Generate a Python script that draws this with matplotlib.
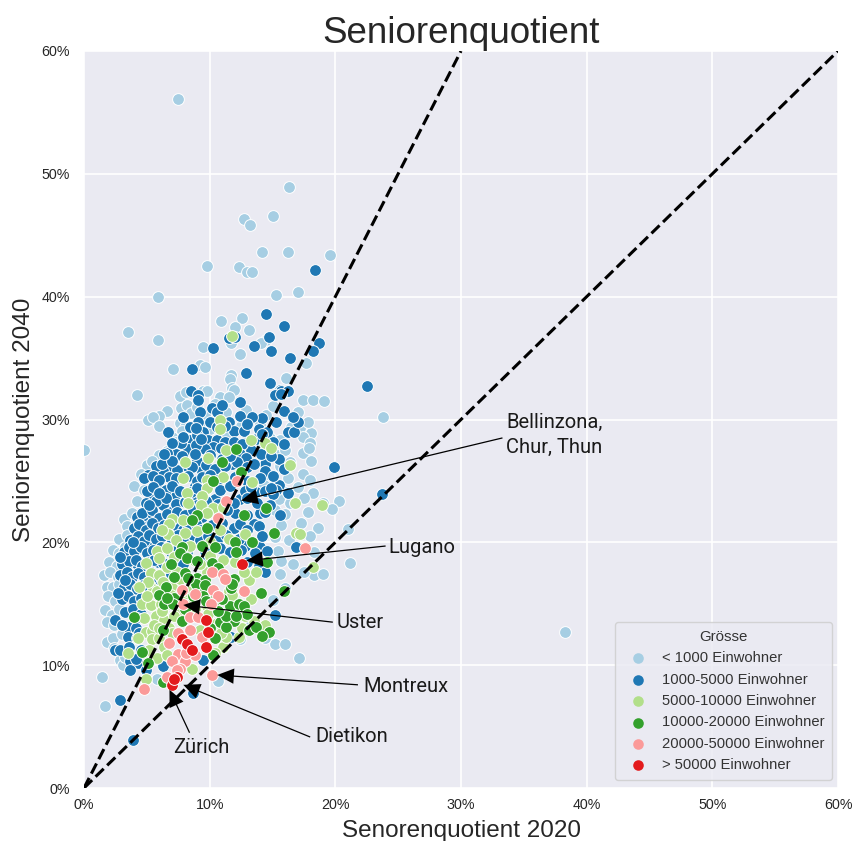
import matplotlib
matplotlib.use("Agg")
import matplotlib.pyplot as plt

plt.rcParams["font.family"] = ["Liberation Sans", "DejaVu Sans"]

# (Seniorenquotient 2020, Seniorenquotient 2040) in %
klein = [(7.5,56.1),(0.0,27.5),(16.3,48.9),(15.0,46.6),(12.7,46.3),(13.2,45.8),(14.2,43.6),(16.2,43.6),(19.6,43.4),
    (9.8,42.5),(12.3,42.4),(13.0,42.0),(13.4,42.0),(5.9,40.0),(15.3,40.1),(17.0,40.4),(10.9,38.0),(12.6,38.3),
    (12.0,37.5),(13.1,37.3),(3.5,37.1),(5.9,36.5),(11.7,36.2),(14.5,36.5),(14.1,36.2),(9.5,35.9),(12.4,35.3),
    (17.7,34.6),(7.1,34.1),(9.2,34.4),(9.6,34.3),(11.7,33.6),(11.6,33.3),(16.1,33.4),(11.8,32.6),(11.9,32.4),
    (4.2,32.0),(7.6,31.9),(8.1,32.2),(9.5,32.3),(9.8,32.3),(10.8,31.8),(11.5,31.8),(17.4,31.6),(18.2,31.6),(19.1,31.5),
    (23.8,30.2),(38.3,12.7),(6.6,30.7),(7.7,30.9),(8.2,31.2),(8.5,30.5),(9.0,31.0),(9.6,30.4),(10.4,31.3),(11.3,30.6),
    (12.9,30.8),(14.5,30.4),(15.0,31.1),(17.0,30.6),(5.1,30.0),(6.0,30.3),(5.5,30.2),(7.6,29.7),(8.0,29.4),(7.8,29.1),
    (9.2,29.6),(6.0,29.5),(10.0,29.2),(12.5,29.5),(14.0,29.6),(16.5,29.4),(17.2,29.3),(18.1,28.9),(17.8,29.8),
    (7.0,28.6),(7.3,28.2),(11.4,28.7),(13.0,28.4),(14.8,28.5),(15.6,28.3),(17.4,28.6),(18.0,28.1),
    (6.0,27.1),(6.6,27.4),(13.8,27.6),(15.2,27.2),(16.0,27.5),(17.4,27.3),(17.9,27.7),(5.0,26.3),(5.4,26.6),(6.0,26.2),
    (14.5,26.7),(15.6,26.2),(16.4,26.5),(18.1,26.6),(4.5,25.6),(5.0,25.3),(5.7,25.7),(14.8,25.5),(16.2,25.2),(17.4,25.6),
    (18.0,25.1),(4.0,24.6),(4.8,24.3),(14.3,24.7),(15.8,24.2),(17.0,24.5),(18.2,24.0),(4.2,23.4),(15.5,23.5),(16.4,23.2),
    (17.5,23.6),(19.0,23.2),(20.3,23.4),(3.2,21.9),(3.8,22.4),(15.2,22.6),(16.0,22.3),(17.8,22.5),(19.7,22.7),
    (3.4,21.3),(15.7,21.4),(17.3,21.6),(18.6,21.2),(21.0,21.1),(2.8,20.3),(3.4,20.6),(15.2,20.4),(16.3,20.2),(18.0,20.5),
    (2.3,19.4),(2.8,19.1),(3.3,19.6),(15.4,19.3),(17.0,19.6),(18.3,19.2),(2.0,18.4),(2.6,18.1),(15.7,18.5),(16.6,18.2),
    (18.3,17.3),(21.2,18.3),(1.6,17.3),(2.1,17.6),(2.7,17.2),(15.6,17.4),(17.5,17.6),(19.0,17.4),(1.8,16.4),(2.3,16.4),
    (2.8,16.6),(16.0,16.3),(1.9,15.6),(2.5,15.2),(3.1,15.4),(15.0,15.3),(1.7,14.5),(2.2,14.1),(2.8,14.6),(1.8,13.5),
    (2.4,13.3),(13.2,13.7),(1.8,11.9),(2.3,12.2),(3.0,12.5),(2.4,11.4),(3.1,11.0),(2.9,10.4),(3.1,10.0),(3.3,10.7),
    (15.2,11.7),(16.0,11.7),(17.1,10.6),(14.4,12.2),(12.4,12.1),(1.4,9.0),(1.7,6.7),(10.7,8.7),(5.8,8.9)]

mittel = [(18.4,42.2),(14.5,38.6),(15.9,37.6),(14.7,36.7),(11.5,36.6),(12.0,36.7),(10.3,35.8),(13.5,36.0),(14.9,35.6),
    (18.7,36.2),(18.2,35.6),(16.4,35.0),(8.6,34.1),(12.9,33.8),(14.8,33.0),(15.6,32.4),(15.7,32.3),(16.2,32.3),(15.2,32.0),
    (22.5,32.7),(8.5,32.3),(9.1,32.0),(9.1,31.6),(23.7,23.9),(19.9,26.1),(10.2,30.9),(9.2,30.6),(7.9,30.2),(12.4,30.3),
    (10.6,30.6),(15.7,32.1),(15.9,30.7),(9.1,29.8),(8.4,29.4),(10.0,29.8),(6.7,29.0),(9.5,29.0),(11.5,29.8),(11.9,29.1),
    (12.7,29.1),(15.3,29.8),(16.2,29.0),(16.7,29.0),(14.2,30.1),(17.0,29.8),(8.4,28.3),(9.9,28.3),(10.6,28.3),(11.2,28.2),
    (11.9,28.2),(9.0,28.7),(10.3,27.8),(8.3,27.6),(7.3,27.2),(9.6,27.6),(13.3,27.5),(9.0,26.6),(11.8,26.4),(15.5,26.8),
    (14.4,26.4),(8.2,26.2),(9.4,25.8),(6.8,26.0),(6.3,25.8),(7.4,25.9),(14.4,25.8),(6.8,25.3),(5.1,25.5),(5.9,24.8),
    (8.8,24.6),(7.2,23.7),(5.3,23.5),(8.8,23.6),(10.4,23.5),(12.4,23.5),(13.7,24.1),(15.5,24.7),(15.3,24.3),(14.0,22.4),
    (15.6,22.2),(12.0,22.4),(5.6,22.2),(5.0,22.2),(6.3,23.0),(6.9,22.5),(4.7,21.7),(5.1,21.3),(13.5,21.5),(4.1,20.7),
    (4.6,20.4),(12.8,19.7),(14.0,19.6),(16.9,19.6),(5.2,19.6),(3.7,19.2),(3.5,18.2),(4.2,18.2),(5.9,18.4),
    (8.9,29.3),(10.6,29.4),(11.2,29.5),(7.7,28.1),(8.9,27.9),(9.3,28.4),(10.9,27.7),(12.6,28.0),(13.7,28.4),
    (6.6,27.3),(7.8,27.0),(8.8,27.2),(10.0,27.1),(11.0,26.8),(12.4,27.2),(12.9,26.9),(5.7,26.2),(6.2,26.4),(7.0,26.6),
    (8.6,26.1),(9.7,26.3),(10.4,26.0),(11.2,26.2),(12.2,26.5),(13.0,26.1),(4.8,25.2),(5.5,25.4),(6.0,25.1),(7.3,25.2),
    (8.3,25.4),(9.0,25.0),(9.4,25.3),(10.0,25.5),(10.7,25.1),(12.0,25.3),(13.0,25.0),(5.0,24.2),(5.5,24.5),(6.5,24.3),
    (7.0,24.6),(7.6,24.2),(8.5,24.1),(9.0,24.4),(10.8,24.3),(11.6,24.6),(12.8,24.2),(13.3,24.5),(14.4,24.2),(15.0,23.9),
    (4.9,23.2),(5.7,23.4),(6.5,23.6),(7.3,23.1),(8.0,23.3),(9.0,23.0),(9.7,23.4),(10.7,23.1),(11.9,23.2),(13.0,23.6),
    (13.8,23.2),(14.8,23.0),(4.2,22.1),(4.6,22.4),(5.4,22.6),(6.0,22.0),(6.6,22.3),(7.4,22.5),(8.0,22.2),(8.7,22.6),
    (9.4,22.1),(10.6,22.3),(11.4,22.6),(13.0,22.2),(14.4,22.5),(4.0,21.2),(4.4,21.5),(4.9,21.0),(5.4,21.6),(5.9,21.2),
    (6.4,21.4),(7.4,21.3),(7.9,21.0),(8.3,21.2),(8.9,21.5),(9.3,21.0),(10.2,21.4),(11.0,21.6),(11.9,21.2),(12.4,21.5),
    (13.0,21.0),(13.9,21.3),(3.7,20.2),(4.3,20.5),(4.8,20.1),(5.2,20.6),(5.7,20.3),(6.2,20.5),(7.0,20.2),(7.5,20.6),
    (8.1,20.3),(8.7,20.6),(9.2,20.2),(9.9,20.5),(10.6,20.2),(11.3,20.6),(12.3,20.3),(14.2,20.5),(3.2,19.2),(3.6,19.6),
    (4.0,19.3),(4.5,19.6),(5.0,19.1),(5.5,19.4),(6.1,19.6),(6.9,19.2),(7.5,19.5),(8.2,19.2),(9.6,19.3),(10.8,19.5),
    (11.6,19.2),(12.5,19.4),(13.6,19.1),(14.6,19.3),(3.0,18.2),(3.6,18.5),(4.1,18.6),(4.6,18.1),(5.1,18.4),(5.6,18.6),
    (6.3,18.3),(7.1,18.5),(7.9,18.2),(9.3,18.4),(10.6,18.2),(13.0,18.4),(13.9,18.1),(14.4,17.6),(2.9,17.3),(3.4,17.6),
    (3.8,17.2),(4.3,17.5),(4.8,17.2),(5.3,17.6),(5.8,17.2),(6.9,17.4),(3.2,16.4),(3.7,16.6),(4.2,16.2),(4.7,16.5),
    (5.2,16.3),(6.1,16.6),(3.0,15.4),(3.5,15.6),(4.0,15.2),(4.5,15.5),(4.9,15.2),(2.5,13.7),(3.3,14.3),(3.9,14.6),
    (4.5,14.2),(3.5,13.1),(4.2,13.8),(3.0,13.3),(4.1,13.0),(3.5,12.3),(4.2,12.2),(4.4,12.6),(2.5,11.2),(2.9,11.2),
    (3.6,11.5),(4.5,11.2),(3.7,10.3),(4.3,10.2),(4.1,10.5),(3.7,9.6),(4.9,9.6),(15.2,14.1),(11.7,12.3),(9.5,10.4),
    (6.3,9.9),(2.9,7.2),(8.7,7.7),(3.9,3.9),
    (13.4,30.2),(13.0,29.6),(13.9,29.2),(14.6,29.0),(15.0,28.2),(14.2,28.8),(16.6,30.2),(12.4,31.4),(11.0,31.2),
    (14.1,27.2),(14.9,27.0),(15.9,28.0),(13.5,26.4),(15.0,25.4),(16.2,24.0),(15.9,26.0),(14.0,25.2),(14.9,24.4),
    (11.6,27.0),(7.0,28.1),(6.4,27.2),(7.9,28.6),(6.0,24.0),(5.2,23.0),(3.9,20.0),(2.9,18.8),(3.3,16.9),(2.7,15.9)]

gross = [(11.8,36.8),(10.8,30.0),(10.8,29.2),(13.3,28.3),(14.4,28.1),(14.9,27.7),(11.3,27.5),(9.9,26.9),(8.0,26.5),
    (16.4,26.3),(11.1,25.3),(7.9,25.2),(13.4,24.9),(9.8,25.1),(9.8,24.4),(8.2,24.0),(9.4,23.8),(8.3,23.2),(9.3,23.0),
    (10.3,22.8),(9.8,22.4),(11.1,22.9),(16.8,23.2),(16.9,20.8),(7.0,21.9),(7.9,21.8),(6.8,21.5),(6.7,20.7),(10.8,21.0),
    (12.8,20.7),(5.8,19.3),(6.6,19.5),(8.4,19.7),(7.2,18.8),(4.9,18.3),(11.1,18.6),(13.1,16.9),(13.7,17.6),(5.3,17.5),
    (6.0,17.3),(6.6,18.0),(5.5,16.2),(8.8,18.5),(9.8,17.6),(12.7,17.6),(5.8,16.0),(4.6,15.0),(5.3,14.9),(6.1,15.0),
    (5.7,14.0),(6.4,13.7),(4.9,12.7),(5.4,12.8),(4.3,12.2),(5.4,12.1),(6.0,12.2),(3.5,11.0),(5.8,10.6),(4.9,8.9),
    (8.6,9.7),(11.1,11.5),(14.4,13.3),(13.5,13.6),(10.6,13.4),(11.3,12.3),(12.3,12.3),(7.6,14.2),(6.7,15.0),(18.9,23.0),
    (18.2,18.0),(17.2,20.7),(7.4,17.6),(8.4,17.0),(6.3,16.8),(7.0,16.4),(5.0,15.6),(7.2,14.0),(6.8,13.0),(5.6,13.3),
    (6.4,11.5),(7.0,12.6),(8.8,14.6),(9.8,14.8),(10.4,11.0),(9.2,12.9),(12.8,14.0),(11.5,16.0),(12.4,15.0),(6.0,18.7),
    (5.1,16.8),(4.4,16.4),(6.9,15.7),(7.8,15.5),(6.2,14.4),(4.8,13.8),(5.2,11.2),(6.0,13.0),(7.6,17.0),(8.2,16.0),
    (9.2,18.2),(10.0,18.9),(8.0,20.8),(7.3,20.2),(6.2,21.0),(9.0,20.9),(10.0,20.0),(11.5,20.3),(12.0,18.4),(13.3,15.4),
    (12.6,13.0),(10.9,12.6),(9.9,14.2),(8.3,14.9),(11.8,15.7),(6.6,10.8)]

sehrgross = [(12.1,27.6),(11.0,26.5),(12.5,25.7),(10.3,25.0),(14.5,22.8),(9.0,22.2),(8.6,21.8),(12.7,22.2),(9.8,21.2),
    (15.1,20.8),(12.0,20.0),(13.4,20.0),(9.4,19.7),(10.4,19.6),(7.8,19.6),(7.6,19.1),(8.2,18.7),(12.1,19.2),(10.2,18.3),
    (9.0,18.5),(6.9,18.2),(14.6,18.4),(8.0,17.5),(9.0,17.1),(11.9,17.0),(6.5,16.4),(9.6,16.9),(9.7,16.4),(11.7,16.3),
    (9.3,15.9),(6.0,15.7),(7.2,15.5),(14.1,15.9),(15.9,16.0),(4.0,13.9),(6.4,15.0),(7.1,15.0),(7.8,13.6),(6.3,12.9),
    (4.6,11.1),(5.1,10.2),(6.3,8.6),(11.6,14.8),(12.3,15.0),(12.7,14.8),(13.1,12.9),(13.7,13.1),(14.7,12.7),(14.2,12.4),
    (10.4,12.2),(10.8,13.5),(11.9,13.6),(11.3,13.1),(10.3,10.8),(8.9,16.6),(9.6,16.5),(10.5,15.6),(11.8,16.6),(8.7,15.6),
    (9.5,15.6),(10.3,15.0),(11.3,14.0),(10.7,14.4),
    (8.3,17.1),(7.2,17.2),(10.7,17.9),(9.7,15.2),(8.0,14.6),(6.6,15.5),(11.0,15.4),(13.0,14.2),(12.1,14.0),(10.0,13.0)]

stadt = [(12.2,25.0),(11.3,23.4),(10.7,22.0),(10.2,17.6),(11.1,17.4),(11.2,17.0),(7.8,16.1),(8.8,15.8),(10.3,16.1),
    (12.7,16.0),(10.7,15.6),(17.6,19.5),(10.2,9.2),(4.8,8.1),(6.6,9.0),(7.9,15.0),(8.4,13.9),(9.1,13.9),(8.4,12.9),
    (7.5,12.6),(6.8,11.8),(7.5,10.9),(7.0,10.3),(8.0,10.3),(9.4,12.3),(8.8,10.8),(10.1,15.0),(7.6,9.7),(7.4,9.6),(8.1,11.0)]

grossstadt = [(12.6,18.2),(9.7,13.7),(9.9,12.7),(7.8,12.1),(8.2,11.7),(8.6,11.2),(9.7,11.5),(7.4,9.0),(7.0,8.4),(7.2,8.9)]

gruppen = [klein, mittel, gross, sehrgross, stadt, grossstadt]
labels = ["< 1000 Einwohner", "1000-5000 Einwohner", "5000-10000 Einwohner",
          "10000-20000 Einwohner", "20000-50000 Einwohner", "> 50000 Einwohner"]
farben = ["#a6cee3", "#1f78b4", "#b2df8a", "#33a02c", "#fb9a99", "#e31a1c"]

ticks = [0, 10, 20, 30, 40, 50, 60]
tick_labels = ["0%", "10%", "20%", "30%", "40%", "50%", "60%"]

fig = plt.figure(figsize=(8.55, 8.41), dpi=100)
ax = fig.add_axes([84/855, 53/841, 754/855, 737/841])
ax.set_facecolor("#eaeaf2")
ax.grid(True, color="white", lw=1.2)
ax.set_axisbelow(True)
for s in ax.spines.values():
    s.set_visible(False)

for punkte, label, farbe in zip(gruppen, labels, farben):
    x, y = zip(*punkte)
    ax.scatter(x, y, s=72, color=farbe, edgecolor="white", lw=0.7, label=label, zorder=2)

# die beiden Referenzlinien
ax.plot([0, 60], [0, 60], color="black", ls="--", lw=2.2, zorder=3)
ax.plot([0, 30], [0, 60], color="black", ls="--", lw=2.2, zorder=3)

ax.set_xlim(0, 60)
ax.set_ylim(0, 60)
ax.set_xticks(ticks)
ax.set_xticklabels(tick_labels)
ax.set_yticks(ticks)
ax.set_yticklabels(tick_labels)
ax.tick_params(length=0, labelsize=10.3, labelcolor="#262626")
ax.tick_params(axis="x", pad=7)
ax.tick_params(axis="y", pad=10)

ax.set_title("Seniorenquotient", fontsize=26.5, color="#262626", pad=3)
ax.set_xlabel("Senorenquotient 2020", fontsize=17.5, color="#262626", labelpad=6)
ax.set_ylabel("Seniorenquotient 2040", fontsize=17.5, color="#262626", labelpad=5)

pfeil = dict(facecolor="black", edgecolor="none", width=0.9, headwidth=11, headlength=12, shrink=0)
beschriftung = [("", (12.5, 23.4), (33.3, 28.5)),
                ("", (12.9, 18.5), (24.0, 19.7)),
                ("", (7.9, 14.9), (19.8, 13.5)),
                ("", (10.6, 9.2), (21.8, 8.4)),
                ("", (7.9, 8.4), (18.0, 4.15)),
                ("", (6.8, 8.0), (8.4, 4.5))]
for text, spitze, ende in beschriftung:
    ax.annotate(text, xy=spitze, xytext=ende, arrowprops=pfeil, zorder=4)

schrift = dict(fontsize=14.5, color="#1a1a1a", family=["Roboto", "DejaVu Sans"], va="center", zorder=5)
ax.text(33.6, 28.75, "Bellinzona,\nChur, Thun", linespacing=1.45, **schrift)
ax.text(24.2, 19.6, "Lugano", **schrift)
ax.text(20.1, 13.5, "Uster", **schrift)
ax.text(22.2, 8.25, "Montreux", **schrift)
ax.text(18.4, 4.2, "Dietikon", **schrift)
ax.text(7.1, 3.3, "Zürich", **schrift)

leg = ax.legend(title="Grösse", loc="lower right", bbox_to_anchor=(0.9925, 0.0105), borderaxespad=0,
                fontsize=10.6, title_fontsize=10.8, facecolor="#eaeaf2", edgecolor="#cccccc",
                framealpha=0.8, labelspacing=0.5, handletextpad=0.6, borderpad=0.55, scatterpoints=1)
for t in leg.get_texts():
    t.set_color("#333333")
leg.get_title().set_color("#333333")
for h in leg.legend_handles:
    h.set_linewidth(0)
    h.set_sizes([58])
leg.set_zorder(6)

plt.savefig("out.png", dpi=100)
